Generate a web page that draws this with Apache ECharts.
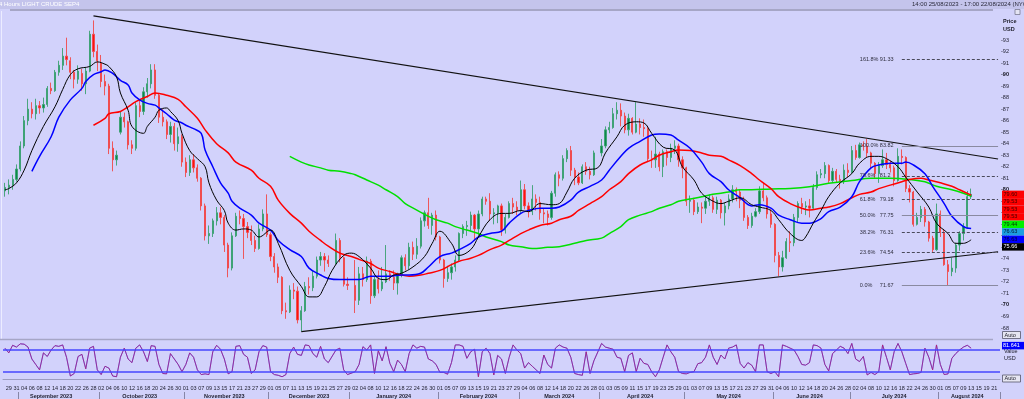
<!DOCTYPE html>
<html>
<head>
<meta charset="utf-8">
<title>LIGHT CRUDE SEP4</title>
<script src="https://cdn.jsdelivr.net/npm/echarts@6.0.0/dist/echarts.min.js"></script>
<style>
    html, body { margin: 0; padding: 0; background: #d2d2fb; }
    #chart { width: 1024px; height: 399px; }
</style>
</head>
<body>
<div id="chart"></div>
<script>
// trading days (weekdays) 28/08/2023 .. 22/08/2024
var dates = [];
(function () {
    var d = new Date(Date.UTC(2023, 7, 28));
    var end = Date.UTC(2024, 7, 22);
    while (d.getTime() <= end) {
        var w = d.getUTCDay();
        if (w > 0 && w < 6) dates.push(d.toISOString().slice(0, 10));
        d.setUTCDate(d.getUTCDate() + 1);
    }
})();

// one candle per trading day: [open, close, low, high]
var ohlc = [
    [79.9,80.2,79.4,80.6],[80.2,80.4,79.6,80.9],[80.4,80.9,80.0,81.3],[80.9,81.8,80.7,82.2],[81.8,83.8,81.6,84.2],
    [83.8,86.0,83.6,86.4],[86.0,87.0,85.6,87.9],[87.0,86.6,86.2,87.6],[86.6,87.3,86.1,87.9],[87.3,87.1,86.6,87.7],
    [87.1,87.4,86.7,88.0],[87.4,88.8,87.2,89.0],[88.8,88.6,88.3,89.3],[88.6,90.2,88.5,90.4],[90.2,90.8,89.9,91.2],
    [90.8,91.6,90.4,92.3],[91.6,91.3,90.8,93.2],[91.2,90.2,89.6,91.5],[90.2,89.6,88.8,90.4],[89.6,90.3,89.2,90.8],
    [90.1,89.2,88.6,90.5],[89.2,90.3,88.3,90.6],[90.3,93.5,90.2,93.8],[93.5,92.0,91.5,94.7],[92.0,91.2,90.3,92.6],
    [91.0,89.4,88.9,91.7],[89.4,89.0,88.2,90.0],[89.0,83.6,83.1,89.2],[83.6,82.6,81.6,84.2],[82.6,83.0,82.1,83.4],
    [85.0,86.3,84.8,86.8],[86.3,85.9,85.4,86.7],[85.9,83.9,83.5,86.0],[83.9,83.6,83.1,84.3],[83.6,87.3,83.4,87.6],
    [87.3,86.8,86.3,87.8],[86.8,88.5,86.5,88.9],[88.5,89.2,88.0,89.7],[89.2,90.4,88.8,90.9],[90.4,88.2,87.9,90.9],
    [88.2,86.3,85.8,88.4],[86.3,85.9,85.5,87.0],[85.9,84.8,84.4,86.1],[84.8,85.5,84.1,85.9],[85.5,84.0,83.4,85.8],
    [84.0,84.6,83.3,85.4],[84.6,82.4,82.0,84.8],[82.4,81.5,81.1,82.8],[81.5,82.6,81.2,83.0],[82.6,81.9,81.5,83.1],
    [81.9,81.0,80.7,82.2],[81.0,78.6,78.2,81.1],[78.6,76.0,75.6,78.8],[76.0,76.2,75.3,76.9],[76.2,77.3,75.9,77.5],
    [77.3,78.0,76.9,78.5],[78.0,77.6,77.0,78.5],[77.6,75.2,74.6,77.8],[75.2,73.2,72.4,75.4],[73.2,76.0,73.0,76.3],
    [76.0,77.7,75.9,78.0],[77.7,77.5,77.0,78.2],[77.5,76.8,74.0,77.9],[76.8,76.3,75.8,77.2],[76.3,75.6,75.2,76.9],
    [75.6,74.9,74.6,76.0],[74.9,76.6,74.8,77.0],[76.6,77.9,76.4,78.3],[77.9,76.1,75.9,79.6],[76.1,74.2,73.8,76.3],
    [74.2,73.3,72.8,74.5],[73.3,72.4,71.9,73.6],[72.4,69.5,69.2,72.5],[69.5,69.4,68.8,70.2],[69.4,71.3,69.3,71.7],
    [71.3,71.2,70.5,71.9],[71.2,68.7,68.4,71.6],[68.7,69.5,67.7,69.9],[69.5,71.6,69.4,72.0],[71.6,71.5,70.9,72.4],
    [71.5,72.5,71.2,73.0],[72.5,73.9,72.3,74.2],[73.9,74.2,73.4,74.6],[74.2,73.9,72.9,74.5],[73.9,73.6,73.3,74.3],
    '-',[73.6,75.6,73.5,76.2],[75.6,74.1,73.7,75.8],[74.1,71.8,71.6,74.2],[71.8,71.7,71.3,72.4],
    '-',[71.7,70.4,69.3,73.9],[70.4,72.7,70.0,73.3],[72.7,72.2,71.6,73.3],[72.2,73.8,72.0,74.2],
    [73.8,70.8,70.1,74.0],[70.8,72.2,70.6,72.5],[72.2,71.4,71.0,73.0],[71.4,72.0,71.2,73.3],[72.0,72.7,71.9,75.2],
    [72.7,72.4,72.1,73.0],[72.4,71.9,71.3,73.0],[71.9,72.6,70.9,72.8],[72.6,74.1,72.4,74.3],[74.1,73.4,73.0,74.4],
    [73.4,75.0,73.1,75.4],[75.0,74.4,73.9,75.5],[74.4,75.1,74.0,75.8],[75.1,77.3,74.9,77.6],[77.3,78.0,76.8,78.2],
    [78.0,76.9,76.6,79.3],[76.9,77.8,76.1,78.0],[77.8,75.9,75.6,78.2],[75.9,73.9,73.6,76.0],[73.9,72.3,71.5,74.0],
    [72.3,72.8,72.0,73.4],[72.8,73.3,72.2,73.6],[73.3,73.9,72.9,74.3],[73.9,76.2,73.8,76.3],[76.2,76.8,75.8,77.0],
    [76.8,76.9,76.0,77.3],[76.9,77.8,76.4,78.1],[77.8,76.6,75.6,77.9],[76.6,77.9,75.9,78.2],[77.9,79.2,77.7,79.4],
    [79.2,79.0,78.7,79.4],[79.0,77.9,77.3,79.7],[77.9,78.0,77.0,78.4],[78.0,78.6,77.1,78.7],[78.6,76.5,76.0,78.8],
    [76.5,77.6,76.2,77.9],[77.6,78.8,77.5,79.0],[78.8,78.5,77.9,79.3],[78.5,78.2,77.8,79.0],[78.2,80.0,78.0,80.8],
    [80.0,78.6,78.3,80.5],[78.6,78.1,77.6,78.9],[78.1,79.2,77.8,80.4],[79.2,78.9,78.2,79.6],[78.9,78.0,77.4,79.4],
    [78.0,77.9,77.1,78.4],[77.9,77.6,76.9,78.2],[77.6,79.7,77.4,79.9],[79.7,81.3,79.4,81.5],[81.3,81.0,80.3,81.6],
    [81.0,82.7,80.8,83.0],[82.7,83.4,82.4,83.6],[83.4,81.7,81.2,83.8],[81.7,81.1,80.4,81.9],[81.1,80.6,80.4,81.5],
    [80.6,82.0,80.5,82.2],[82.0,81.6,81.3,82.4],[81.6,81.3,80.9,82.0],[81.3,83.2,81.2,83.4],'-',
    [83.2,83.8,82.9,84.4],[83.8,85.2,83.6,85.5],[85.2,85.4,84.9,85.9],[85.4,86.6,85.3,87.1],[86.6,86.9,86.1,87.6],
    [86.9,86.4,85.5,87.5],[86.4,85.2,84.9,86.7],[85.2,86.2,84.7,86.6],[86.2,85.0,84.8,86.3],[85.0,85.7,84.9,87.6],
    [85.7,85.4,84.8,86.2],[85.4,85.3,84.6,86.1],[85.3,82.7,82.4,85.5],[82.7,82.6,81.9,83.4],[82.6,83.1,81.9,84.6],
    [83.1,82.0,81.6,83.3],[82.0,83.3,81.1,83.5],[83.3,82.8,82.1,83.5],[82.8,83.6,82.4,84.0],[83.6,83.8,83.1,84.3],
    [83.8,82.6,82.0,84.0],[82.6,81.9,81.0,82.9],[81.9,79.0,78.6,82.0],[79.0,79.1,78.0,79.5],[79.1,78.1,77.8,79.3],
    [78.1,78.5,77.9,78.9],[78.5,78.4,77.1,78.9],[78.4,79.0,77.9,79.4],[79.0,79.3,78.6,79.6],[79.3,78.3,78.0,79.5],
    [78.3,79.1,77.9,79.4],[79.1,78.0,77.5,79.2],[78.0,78.6,76.9,78.9],[78.6,79.2,78.3,79.6],[79.2,80.0,78.9,80.4],
    [80.0,79.8,79.0,80.2],[79.8,79.1,78.4,80.0],[79.1,77.6,77.3,79.4],[77.6,76.9,76.6,77.8],[76.9,77.7,76.7,78.0],
    [77.7,78.1,77.6,78.4],[78.1,79.9,77.9,80.3],[79.9,79.3,79.0,80.6],[79.3,77.9,77.5,79.5],[77.9,77.0,76.7,78.3],
    [77.0,74.3,73.7,77.1],[74.3,73.3,72.5,74.6],[73.3,74.1,72.9,74.7],[74.1,75.5,74.0,75.8],[75.5,75.4,74.6,76.4],
    [75.4,77.6,75.1,77.9],[77.6,78.8,77.2,79.0],[78.8,78.5,77.9,79.3],[78.5,78.6,77.8,79.0],[78.6,78.4,77.6,79.2],
    [78.4,80.2,78.3,80.5],[80.2,81.3,80.0,81.6],[81.3,81.4,81.0,81.8],[81.4,82.1,81.0,82.4],[82.1,80.8,80.6,82.2],
    [80.8,81.6,80.6,81.9],[81.6,80.9,80.6,81.8],[80.9,80.7,80.1,81.3],[80.7,81.7,80.5,82.2],[81.7,81.5,81.1,82.3],
    [81.5,83.4,81.4,83.8],[83.4,82.8,82.6,83.9],[82.8,83.9,82.7,84.1],[83.9,83.8,83.4,84.2],[83.8,83.2,82.8,84.4],
    [83.2,82.3,81.8,83.3],[82.3,81.4,81.0,82.4],[81.4,82.1,80.6,82.4],[82.1,82.6,81.9,83.5],[82.6,82.2,81.8,83.2],
    [82.2,81.9,81.5,82.5],[81.9,80.8,80.3,82.1],[80.8,82.9,80.7,83.6],[82.9,82.8,82.2,83.5],[82.8,80.1,79.8,82.9],
    [80.1,79.8,78.9,80.4],[79.8,77.0,76.8,79.9],[77.0,77.6,76.9,78.0],[77.6,78.3,77.2,78.6],[78.3,77.2,76.8,78.5],
    [77.2,75.8,75.5,77.3],[75.8,74.8,74.6,76.0],[74.8,77.9,74.7,78.8],[77.9,76.3,75.9,78.2],[76.3,73.5,73.4,76.6],
    [73.5,72.9,71.7,73.9],[72.9,73.2,72.5,74.1],[73.2,75.2,72.8,75.4],[75.2,76.2,74.7,76.4],[76.2,76.8,75.6,77.1],
    [76.8,79.4,76.6,79.9],[79.4,79.6,79.2,80.1]
];

// moving averages: [day index, value]
var maBlack = [[0,80.0],[1,80.1],[3,80.6],[5,81.7],[7,83.4],[10,85.5],[13,87.2],[15,88.7],[17,90.0],[19,90.5],[22,90.7],[24,91.1],[26,90.9],[27,90.7],[29,89.8],[30,88.4],[32,86.9],[33,85.5],[36,84.9],[37,85.5],[39,86.3],[40,86.9],[42,87.1],[43,86.8],[45,86.0],[46,84.9],[48,83.4],[50,82.7],[52,82.0],[53,80.6],[55,79.1],[57,78.2],[58,77.1],[60,76.5],[62,76.6],[64,76.5],
    [66,75.9],[69,76.5],[71,75.35],[74,73.0],[77,71.6],[79,70.7],[81,70.7],[83,71.6],[85,73.0],[88,74.3],[90,74.5],[92,74.2],[95,73.2],[97,72.3],[99,72.2],[101,72.6],[103,72.75],[106,73.3],[109,74.2],[111,75.35],[113,76.4],[116,75.35],[118,74.3],[121,74.8],[123,75.9],[126,77.4],[129,77.95],
    [131,77.95],[134,78.2],[136,78.1],[139,78.8],[142,78.7],[144,78.8],[146,79.8],[148,81.0],[151,81.7],[154,81.9],[156,83.2],[159,84.6],[161,85.6],[164,85.9],[166,85.8],[168,84.9],[171,83.7],[174,83.45],[176,82.0],[179,80.85],[181,79.7],[184,79.0],[186,78.8],[188,79.0],[191,79.3],[194,78.7],
    [196,78.5],[199,78.2],[201,77.4],[204,76.2],[207,75.6],[208,75.9],[210,77.1],[212,78.2],[214,79.4],[217,80.6],[220,81.4],[222,82.3],[225,82.9],[227,82.9],[229,82.7],[232,82.0],[234,81.1],[237,79.8],[240,78.5],[242,77.1],[245,76.2],[247,75.35],[249,75.35],[251,75.66]];
var maBlue = [[7,81.6],[9,82.9],[12,84.6],[14,86.3],[17,87.8],[20,88.8],[21,89.4],[23,90.0],[25,90.25],[26,90.4],[28,90.1],[30,89.5],[32,89.1],[33,88.4],[35,87.8],[37,87.5],[39,87.35],[40,87.1],[42,86.6],[44,86.05],[46,85.8],[47,85.6],[49,85.3],[51,84.9],[52,83.45],[54,82.0],[56,80.6],[58,79.7],[59,79.0],[61,78.4],[64,77.8],
    [66,77.1],[69,76.5],[71,75.6],[74,74.8],[77,74.2],[79,73.2],[82,72.6],[84,72.3],[87,72.2],[90,72.2],[92,72.2],[95,72.5],[97,72.5],[100,72.5],[103,72.6],[105,72.6],[108,72.75],[110,73.3],[113,74.2],[116,74.5],[118,74.8],[121,75.35],[123,75.9],[126,76.2],[129,76.4],
    [131,77.1],[134,77.95],[136,78.2],[139,78.4],[142,78.4],[144,78.5],[147,79.1],[149,79.8],[152,80.3],[155,80.85],[157,81.7],[160,82.9],[162,83.6],[165,84.2],[168,84.75],[170,84.85],[173,84.75],[175,84.3],[178,83.6],[181,82.4],[183,81.4],[186,80.7],[188,80.0],[191,79.3],[194,78.6],
    [196,78.7],[199,78.4],[201,77.8],[204,77.4],[207,77.1],[209,77.1],[212,77.5],[214,78.1],[217,78.5],[220,79.4],[222,80.7],[225,81.9],[227,82.15],[230,82.3],[233,82.3],[234,82.4],[236,82.15],[239,81.4],[241,80.3],[244,78.8],[246,77.7],[249,76.8],[251,76.63]];
var maRed = [[23,85.6],[26,86.2],[27,86.6],[30,86.8],[32,87.2],[34,87.65],[37,88.1],[39,88.4],[42,88.2],[45,87.85],[47,87.2],[50,86.2],[52,85.2],[55,84.0],[58,83.2],[60,82.4],[64,81.7],
    [66,81.0],[69,80.3],[71,79.1],[74,77.95],[77,77.1],[79,76.4],[82,75.6],[84,75.1],[87,74.5],[90,74.2],[92,73.96],[95,73.6],[97,73.2],[100,72.9],[103,72.6],[105,72.5],[108,72.6],[110,72.75],[113,73.0],[116,73.5],[118,73.8],[121,74.05],[123,74.3],[126,74.8],[129,75.2],
    [131,75.6],[134,76.2],[136,76.5],[139,76.9],[142,77.1],[144,77.4],[147,77.7],[149,78.2],[152,78.8],[155,79.4],[157,80.0],[160,80.7],[162,81.4],[165,82.15],[168,82.6],[170,83.0],[173,83.3],[175,83.45],[178,83.4],[181,83.2],[183,83.0],[186,82.9],[188,82.6],[191,82.1],[194,81.4],
    [196,80.85],[199,80.1],[201,79.4],[204,78.8],[207,78.4],[209,78.24],[212,78.4],[214,78.5],[217,78.8],[220,79.3],[222,79.6],[225,79.8],[227,80.1],[230,80.4],[233,80.7],[235,80.9],[238,81.0],[240,80.85],[243,80.6],[246,80.3],[248,80.0],[251,79.53]];
var maGreen = [[74,82.9],[77,82.4],[79,82.15],[82,81.9],[84,81.7],[87,81.6],[90,81.4],[91,81.3],[94,80.85],[97,80.4],[99,80.0],[102,79.4],[104,78.8],[107,78.24],[110,77.7],[112,77.4],[115,77.1],[117,76.8],[120,76.5],[123,76.2],[125,75.9],[129,75.5],
    [131,75.2],[134,75.06],[137,74.9],[141,75.0],[144,75.06],[148,75.35],[151,75.6],[155,75.8],[157,76.2],[160,76.8],[162,77.4],[165,77.8],[168,78.1],[170,78.4],[173,78.7],[175,79.0],[178,79.2],[181,79.4],[183,79.55],[186,79.7],[188,79.8],[191,80.0],[194,80.0],
    [199,80.07],[204,80.12],[209,80.27],[214,80.56],[220,80.8],[225,81.0],[230,81.0],[235,80.9],[239,80.7],[242,80.3],[246,80.0],[249,79.7],[251,79.44]];

// stochastic, one reading per trading day
var stoch = [
    85,72,93,88,97,96,88,55,40,25,
    72,62,80,92,90,94,60,8,15,62,
    68,28,85,90,25,12,35,30,8,6,
    60,85,55,45,85,94,75,48,92,90,
    40,15,14,70,55,40,20,40,72,60,
    25,12,14,12,75,93,82,55,14,20,
    90,92,68,60,15,25,75,92,88,20,
    12,10,6,12,70,88,68,65,94,92,
    70,60,90,55,45,null,80,85,25,12,
    null,20,40,89,80,94,15,78,50,89,
    43,20,52,40,20,70,94,85,90,88,
    55,50,40,18,18,13,45,94,94,90,
    57,75,82,6,75,85,70,11,65,55,
    15,60,94,80,70,30,45,35,25,15,
    66,40,30,85,94,88,85,60,15,12,
    10,75,15,50,null,98,88,85,82,60,
    57,20,65,72,20,57,43,40,20,6,
    25,60,94,75,60,20,15,14,18,20,
    42,45,60,94,60,40,66,55,85,88,
    94,43,30,45,38,20,94,94,20,15,
    20,6,94,90,85,80,62,40,38,45,
    94,92,85,40,22,70,80,90,85,70,
    98,55,48,62,11,18,12,20,94,60,
    25,75,98,75,43,12,14,15,18,85,
    60,25,94,40,12,14,57,70,80,88,
    93,85
];
var stochLast = 81.641;

// trend lines [day index, price]
var trendUpper = [[23, 95.1], [258, 82.67]];
var trendLower = [[77, 67.68], [258, 74.62]];

// fibonacci retracement
var fibPct = ['161.8%', '100.0%', '78.6%', '61.8%', '50.0%', '38.2%', '23.6%', '0.0%'];
var fibVal = [91.33, 83.82, 81.2, 79.18, 77.75, 76.31, 74.54, 71.67];

// last values shown on the price scale
var tagValues = [79.60, 79.53, 79.53, 79.53, 79.44, 76.63, 76.63, 75.66];
var tagFill = ['#ff0000', '#ff0000', '#ff0000', '#ff0000', '#00f000', '#1c9ee0', '#0000ff', '#000000'];
var tagInk = ['#3a0000', '#3a0000', '#3a0000', '#3a0000', '#003300', '#001a33', '#00002a', '#ffffff'];

var monthNames = ['January', 'February', 'March', 'April', 'May', 'June', 'July', 'August', 'September', 'October', 'November', 'December'];

var FONT = 'Liberation Sans';
var FIB_FROM = 233, LAST = dates.length - 1;

// month boundaries and label positions
var monthStart = [], monthMid = [];
for (var i = 1; i < dates.length; i++) {
    if (dates[i].slice(5, 7) !== dates[i - 1].slice(5, 7)) monthStart.push(i);
}
var segStart = [0].concat(monthStart.slice(1));
var segEnd = monthStart.slice(1).concat([dates.length]);
for (var s = 0; s < segStart.length; s++) {
    monthMid.push(Math.floor((segStart[s] + segEnd[s] - 1) / 2));
}

function maSeries(pts, color, width) {
    return {
        type: 'line', xAxisIndex: 0, yAxisIndex: 0,
        data: pts.map(function (p) { return [dates[p[0]], p[1]]; }),
        smooth: 0.4, showSymbol: false, silent: true,
        lineStyle: { color: color, width: width }
    };
}

function priceLines() {
    var out = [];
    out.push([{ coord: [dates[trendUpper[0][0]], trendUpper[0][1]], label: { show: false }, lineStyle: { color: '#111', width: 1.2, type: 'solid' } },
              { coord: [dates[trendUpper[1][0]], trendUpper[1][1]] }]);
    out.push([{ coord: [dates[trendLower[0][0]], trendLower[0][1]], label: { show: false }, lineStyle: { color: '#111', width: 1.2, type: 'solid' } },
              { coord: [dates[trendLower[1][0]], trendLower[1][1]] }]);
    for (var f = 0; f < fibPct.length; f++) {
        var solid = fibPct[f] === '100.0%' || fibPct[f] === '50.0%' || fibPct[f] === '0.0%';
        out.push([{
            coord: [dates[FIB_FROM], fibVal[f]],
            lineStyle: solid ? { color: '#8a8aa0', width: 1, type: 'solid' } : { color: '#4a4a5a', width: 1, type: [3, 2] },
            label: {
                show: true, position: 'start', distance: 4,
                formatter: '{a|' + fibPct[f] + '}{b|' + fibVal[f] + '}',
                rich: {
                    a: { width: 20, align: 'left', fontSize: 5.5, fontFamily: FONT, color: '#2e2e3e' },
                    b: { width: 18, align: 'left', fontSize: 5.5, fontFamily: FONT, color: '#2e2e3e' }
                }
            }
        }, { coord: [dates[LAST], fibVal[f]] }]);
    }
    return out;
}

var option = {
    animation: false,
    backgroundColor: '#d2d2fb',
    grid: [
        { left: 3, right: 24, top: 5.44, height: 334.08 },
        { left: 3, right: 24, top: 341, height: 42 }
    ],
    xAxis: [
        { type: 'category', gridIndex: 0, data: dates, axisLine: { show: false }, axisTick: { show: false }, axisLabel: { show: false }, splitLine: { show: false } },
        {
            type: 'category', gridIndex: 1, data: dates,
            axisLine: { lineStyle: { color: '#9c9cc0', width: 1 } },
            axisTick: { show: false },
            axisLabel: {
                interval: function (idx) { return idx % 2 === 1; },
                formatter: function (v) { return v.slice(8); },
                fontSize: 5.5, fontFamily: FONT, color: '#1e1e2e', margin: 2
            }
        },
        {
            type: 'category', gridIndex: 1, data: dates, position: 'bottom', offset: 9,
            axisLine: { show: false },
            axisTick: { show: true, length: 8, interval: function (idx) { return monthStart.indexOf(idx) >= 0; }, lineStyle: { color: '#8686a6' } },
            axisLabel: {
                interval: function (idx) { return monthMid.indexOf(idx) >= 0; },
                formatter: function (v) { return monthNames[parseInt(v.slice(5, 7), 10) - 1] + ' ' + v.slice(0, 4); },
                fontSize: 5.5, fontWeight: 'bold', fontFamily: FONT, color: '#1e1e2e', margin: 1
            }
        }
    ],
    yAxis: [
        {
            type: 'value', gridIndex: 0, position: 'right', min: 67, max: 96, interval: 1,
            splitLine: { show: false }, axisLine: { show: false }, axisTick: { show: false },
            axisLabel: {
                margin: 1, fontSize: 5.5, fontFamily: FONT, color: '#1e1e2e',
                formatter: function (v) {
                    if (v < 68 || v > 93) return '';
                    return v % 10 === 0 ? '{b|-' + v + '}' : '-' + v;
                },
                rich: { b: { fontSize: 5.5, fontWeight: 'bold', fontFamily: FONT, color: '#0e0e18' } }
            }
        },
        {
            type: 'value', gridIndex: 1, position: 'right', min: -11.3, max: 104.8,
            splitLine: { show: false }, axisLine: { show: false }, axisTick: { show: false }, axisLabel: { show: false }
        }
    ],
    series: [
        {
            type: 'candlestick', xAxisIndex: 0, yAxisIndex: 0, data: ohlc, barWidth: 1.7, silent: true,
            itemStyle: { color: '#0b8a4a', color0: '#ff1010', borderColor: '#3aa070', borderColor0: '#f04848', borderWidth: 0.9 },
            markLine: { silent: true, symbol: ['none', 'none'], data: priceLines() }
        },
        maSeries(maGreen, '#00e000', 1.5),
        maSeries(maRed, '#ff0000', 1.5),
        maSeries(maBlue, '#0000ff', 1.5),
        maSeries(maBlack, '#000000', 1),
        {
            type: 'line', xAxisIndex: 1, yAxisIndex: 1, data: stoch, showSymbol: false, connectNulls: true, silent: true,
            lineStyle: { color: '#2828ff', width: 0.9 },
            markLine: {
                silent: true, symbol: ['none', 'none'], label: { show: false },
                lineStyle: { color: '#4646ff', width: 1.5, type: 'solid' },
                data: [{ yAxis: 80 }, { yAxis: 20 }]
            }
        },
        {
            type: 'line', xAxisIndex: 1, yAxisIndex: 1, data: stoch, showSymbol: false, connectNulls: true, silent: true,
            lineStyle: { color: '#ff2020', width: 0.9, opacity: 0.5 }
        }
    ]
};

var chart = echarts.init(document.getElementById('chart'));
chart.setOption(option);

function txt(x, y, s, color, bold, size) {
    return {
        type: 'text', x: x, y: y, z: 31,
        style: { text: s, fill: color, fontSize: size || 5.5, fontFamily: FONT, fontWeight: bold ? 'bold' : 'normal', verticalAlign: 'middle' }
    };
}

var graphics = [
    { type: 'rect', shape: { x: 0, y: 0, width: 1024, height: 9 }, style: { fill: '#c4c4ec' }, z: 30 },
    txt(-1, 4.5, '4 Hours LIGHT CRUDE SEP4', '#ffffff', false, 6),
    txt(912, 4.5, '14:00 25/08/2023 - 17:00 22/08/2024 (NYC', '#2a2a3a', false, 6),
    { type: 'line', shape: { x1: 10, y1: 10, x2: 993, y2: 10 }, style: { stroke: '#a6a6c6', lineWidth: 2 }, z: 30 },
    { type: 'rect', shape: { x: 1015, y: 9.5, width: 5, height: 5 }, style: { fill: '#e4e4f4', stroke: '#7a7a90', lineWidth: 0.8 }, z: 30 },
    { type: 'line', shape: { x1: 1.5, y1: 11, x2: 1.5, y2: 339 }, style: { stroke: '#ececff', lineWidth: 1 }, z: 30 },
    { type: 'line', shape: { x1: 0, y1: 339.5, x2: 993, y2: 339.5 }, style: { stroke: '#a6a6c6', lineWidth: 1.5 }, z: 30 },
    txt(1003, 21.7, 'Price', '#1a1a26', true),
    txt(1003, 29.3, 'USD', '#1a1a26', true),
    { type: 'rect', shape: { x: 1002.5, y: 331.5, width: 18, height: 7 }, style: { fill: '#e6e6f2', stroke: '#55556a', lineWidth: 0.8 }, z: 30 },
    txt(1004.5, 335, 'Auto', '#1a1a26'),
    { type: 'rect', shape: { x: 1002.5, y: 375, width: 18, height: 7 }, style: { fill: '#e6e6f2', stroke: '#55556a', lineWidth: 0.8 }, z: 30 },
    txt(1004.5, 378.5, 'Auto', '#1a1a26'),
    txt(1004, 351.5, 'Value', '#1a1a26'),
    txt(1004, 358, 'USD', '#1a1a26')
];

// price tags, stacked downward so they do not overlap
var prevY = -100;
for (var t = 0; t < tagValues.length; t++) {
    var ty = chart.convertToPixel({ yAxisIndex: 0 }, tagValues[t]);
    if (ty < prevY + 7.5) ty = prevY + 7.5;
    prevY = ty;
    graphics.push({ type: 'rect', shape: { x: 1002, y: ty - 3.75, width: 22, height: 7.5 }, style: { fill: tagFill[t] }, z: 30 });
    graphics.push(txt(1003.5, ty, tagValues[t].toFixed(2), tagInk[t]));
}
var sy = chart.convertToPixel({ yAxisIndex: 1 }, stochLast);
graphics.push({ type: 'rect', shape: { x: 1002, y: sy - 7.5, width: 22, height: 7.5 }, style: { fill: '#0000ff' }, z: 30 });
graphics.push(txt(1003, sy - 3.75, stochLast.toFixed(3), '#ffffff'));

chart.setOption({ graphic: graphics });
</script>
</body>
</html>
